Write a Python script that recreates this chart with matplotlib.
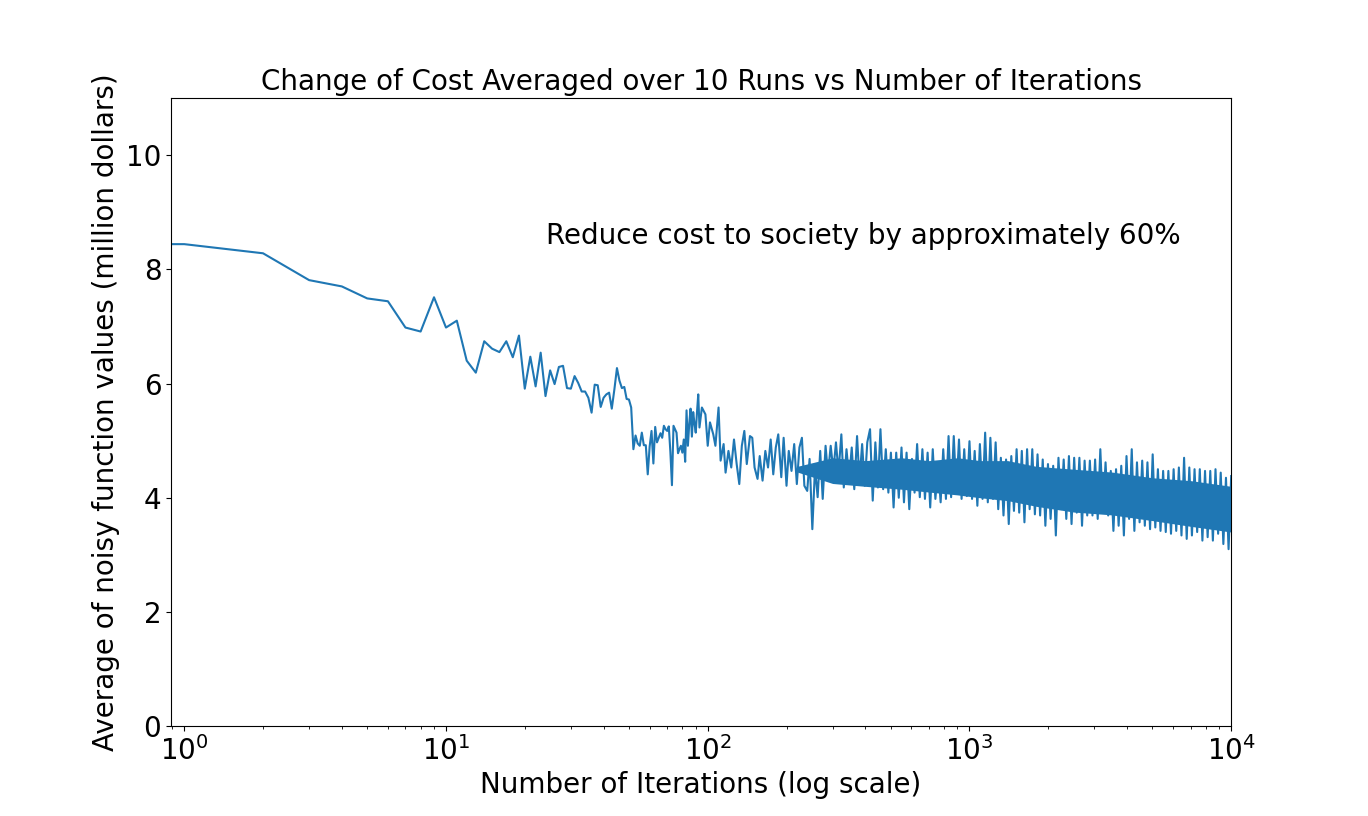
import numpy as np
import matplotlib
matplotlib.use("Agg")
import matplotlib.pyplot as plt

# early iterations, one value each
early_iter = list(range(1, 93))
early_cost = [
    8.44, 8.28, 7.81, 7.70, 7.49, 7.44, 6.98, 6.91, 7.51, 6.98,
    7.10, 6.40, 6.19, 6.74, 6.61, 6.55, 6.74, 6.46, 6.84, 5.91,
    6.47, 5.95, 6.54, 5.78, 6.23, 5.99, 6.29, 6.31, 5.92, 5.91,
    6.13, 6.01, 5.86, 5.86, 5.75, 5.49, 5.98, 5.97, 5.59, 5.75,
    5.81, 5.84, 5.56, 5.90, 6.27, 6.05, 5.92, 5.94, 5.73, 5.72,
    5.58, 4.85, 5.09, 4.95, 4.91, 5.14, 4.92, 4.92, 4.41, 4.90,
    5.17, 4.60, 5.24, 4.97, 5.05, 5.13, 5.05, 5.26, 5.20, 5.17,
    5.25, 4.80, 4.22, 5.26, 5.20, 5.14, 4.78, 4.85, 4.91, 4.79,
    5.02, 4.63, 5.53, 4.91, 5.30, 5.56, 5.07, 5.50, 5.30, 5.14,
    5.50, 5.81,
]

# later iterations, sampled where the curve turns into a dense band
late_iter = [
    93, 95, 98, 100, 102, 105, 107, 110, 112, 115,
    117, 120, 123, 126, 129, 132, 135, 138, 141, 145,
    148, 151, 155, 158, 162, 166, 170, 174, 178, 182,
    186, 191, 195, 200, 204, 209, 214, 219, 224, 229,
    234, 240, 245, 251, 257, 263, 269, 275, 282, 288,
    295, 302, 309, 316, 324, 331, 339, 347, 355, 363,
    372, 380, 389, 398, 407, 417, 427, 437, 447, 457,
    468, 479, 490, 501, 513, 525, 537, 550, 562, 575,
    589, 603, 617, 631, 646, 661, 676, 692, 708, 724,
    741, 759, 776, 794, 813, 832, 851, 871, 891, 912,
    933, 955, 977, 1000, 1023, 1047, 1072, 1096, 1122, 1148,
    1175, 1202, 1230, 1259, 1288, 1318, 1349, 1380, 1413, 1445,
    1479, 1514, 1549, 1585, 1622, 1660, 1698, 1738, 1778, 1820,
    1862, 1905, 1950, 1995, 2042, 2089, 2138, 2188, 2239, 2291,
    2344, 2399, 2455, 2512, 2570, 2630, 2692, 2754, 2818, 2884,
    2951, 3020, 3090, 3162, 3236, 3311, 3388, 3467, 3548, 3631,
    3715, 3802, 3890, 3981, 4074, 4169, 4266, 4365, 4467, 4571,
    4677, 4786, 4898, 5012, 5129, 5248, 5370, 5495, 5623, 5754,
    5888, 6026, 6166, 6310, 6457, 6607, 6761, 6918, 7079, 7244,
    7413, 7586, 7762, 7943, 8128, 8318, 8511, 8710, 8913, 9120,
    9333, 9550, 9772, 10000,
]
late_cost = [
    5.23, 5.58, 5.46, 4.91, 5.32, 5.11, 4.91, 5.58, 4.65, 4.94,
    4.44, 4.82, 4.53, 5.02, 4.59, 4.24, 4.91, 5.17, 4.59, 5.08,
    5.05, 4.53, 4.33, 4.73, 4.30, 4.82, 4.53, 5.02, 4.41, 4.88,
    5.11, 4.36, 5.05, 4.21, 4.82, 4.47, 4.94, 4.24, 4.88, 5.05,
    4.21, 4.12, 4.68, 3.45, 4.53, 4.01, 4.82, 3.98, 4.91, 4.41,
    4.91, 4.47, 4.97, 4.44, 5.11, 4.18, 4.85, 4.33, 4.88, 4.15,
    5.08, 4.30, 4.94, 4.21, 4.97, 5.20, 3.95, 4.97, 4.18, 5.20,
    4.15, 4.85, 4.09, 4.79, 3.83, 4.79, 4.00, 4.88, 3.92, 4.79,
    3.80, 4.68, 4.09, 4.94, 4.01, 4.85, 3.98, 4.79, 3.83, 4.85,
    3.98, 4.56, 3.92, 4.85, 3.98, 5.08, 4.01, 5.08, 4.09, 5.02,
    3.98, 4.85, 4.03, 4.99, 3.98, 4.82, 3.86, 4.94, 3.98, 5.14,
    3.92, 5.05, 3.98, 4.97, 3.80, 4.70, 3.69, 4.67, 3.54, 4.73,
    3.77, 4.85, 3.74, 4.82, 3.57, 4.85, 3.80, 4.85, 3.71, 4.76,
    3.69, 4.67, 3.51, 4.59, 3.63, 4.56, 3.34, 4.70, 3.80, 4.67,
    3.63, 4.73, 3.54, 4.70, 3.74, 4.70, 3.51, 4.65, 3.69, 4.65,
    3.69, 4.67, 3.63, 4.85, 3.74, 4.62, 3.69, 4.47, 3.42, 4.50,
    3.51, 4.56, 3.34, 4.73, 3.63, 4.85, 3.42, 4.62, 3.57, 4.65,
    3.51, 4.62, 3.45, 4.76, 3.48, 4.50, 3.42, 4.47, 3.40, 4.47,
    3.37, 4.50, 3.42, 4.53, 3.34, 4.70, 3.28, 4.53, 3.34, 4.50,
    3.40, 4.50, 3.25, 4.47, 3.31, 4.47, 3.25, 4.50, 3.37, 4.44,
    3.19, 4.35, 3.10, 4.38,
]

# solid core of the dense band (range the curve fills in completely)
core_iter = [220, 300, 400, 550, 700, 900, 1100, 1400, 1800, 2500, 3500, 5000, 7000, 10000]
core_low = [4.45, 4.25, 4.20, 4.15, 4.10, 4.05, 4.00, 3.95, 3.85, 3.75, 3.70, 3.60, 3.50, 3.40]
core_high = [4.55, 4.70, 4.65, 4.70, 4.65, 4.70, 4.65, 4.65, 4.55, 4.50, 4.45, 4.35, 4.30, 4.20]

iterations = np.array([0] + early_iter + late_iter)
cost = np.array([early_cost[0]] + early_cost + late_cost)

fig, ax = plt.subplots(figsize=(13.68, 8.16), dpi=100)
ax.fill_between(core_iter, core_low, core_high, color="#1f77b4", linewidth=0)
ax.plot(iterations, cost, color="#1f77b4", linewidth=1.5)
ax.set_xscale("log")
ax.set_xlim(0.89, 1e4)
ax.set_ylim(0, 11)

ax.set_title("Change of Cost Averaged over 10 Runs vs Number of Iterations", fontsize=20)
ax.set_xlabel("Number of Iterations (log scale)", fontsize=20)
ax.set_ylabel("Average of noisy function values (million dollars)", fontsize=20)
ax.tick_params(axis="both", which="major", labelsize=20)
ax.text(24, 8.45, "Reduce cost to society by approximately 60%", fontsize=20)

plt.savefig("out.png", dpi=100)
